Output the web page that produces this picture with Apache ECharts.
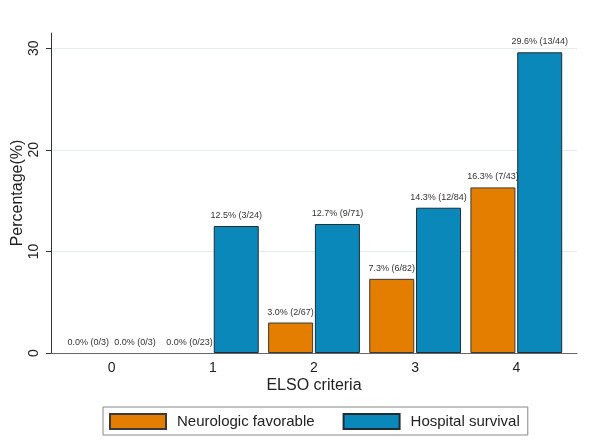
<!DOCTYPE html>
<html>
<head>
<meta charset="utf-8">
<script src="https://cdn.jsdelivr.net/npm/echarts@6/dist/echarts.min.js"></script>
<style>html,body{margin:0;padding:0;background:#fff}#c{width:600px;height:448px}</style>
</head>
<body>
<div id="c"></div>
<script>
const categories = [0, 1, 2, 3, 4];
const seriesNames = ['Neurologic favorable', 'Hospital survival'];
const neuroValues = [0.0, 0.0, 3.0, 7.3, 16.3];
const neuroLabels = ['0.0% (0/3)', '0.0% (0/23)', '3.0% (2/67)', '7.3% (6/82)', '16.3% (7/43)'];
const survValues = [0.0, 12.5, 12.7, 14.3, 29.6];
const survLabels = ['0.0% (0/3)', '12.5% (3/24)', '12.7% (9/71)', '14.3% (12/84)', '29.6% (13/44)'];
const yTicks = [0, 10, 20, 30];
const gridValues = [10, 20, 30];

const FONT = '"Liberation Sans", Arial, sans-serif';

function makeData(vals) {
  return categories.map((c, i) => ({
    value: [c, vals[i]],
    itemStyle: vals[i] === 0 ? { borderWidth: 0 } : undefined
  }));
}

const chart = echarts.init(document.getElementById('c'), null, { renderer: 'canvas' });
chart.setOption({
  animation: false,
  backgroundColor: '#fff',
  grid: { left: 51, right: 23, top: 33, bottom: 95, containLabel: false, outerBoundsMode: 'none' },
  xAxis: {
    type: 'value',
    min: -0.6,
    max: 4.6,
    name: 'ELSO criteria',
    nameLocation: 'middle',
    nameGap: 25,
    nameMoveOverlap: false,
    nameTextStyle: { fontSize: 16, color: '#222', fontFamily: FONT },
    axisLine: { show: true, onZero: false, lineStyle: { color: '#666', width: 1 } },
    axisTick: { show: false },
    splitLine: { show: false },
    axisLabel: { customValues: categories, fontSize: 14, color: '#222', fontFamily: FONT, margin: 8 }
  },
  yAxis: {
    type: 'value',
    min: 0,
    max: 31.5,
    name: 'Percentage(%)',
    nameLocation: 'middle',
    nameGap: 25,
    nameMoveOverlap: false,
    nameTextStyle: { fontSize: 16, color: '#222', fontFamily: FONT },
    axisLine: { show: true, onZero: false, lineStyle: { color: '#333', width: 1 } },
    axisTick: { show: true, customValues: yTicks, length: 5, lineStyle: { color: '#333' } },
    splitLine: { show: false },
    axisLabel: { customValues: yTicks, rotate: 90, fontSize: 14, color: '#222', fontFamily: FONT, margin: 10 }
  },
  legend: {
    data: seriesNames,
    left: 103,
    top: 407,
    orient: 'horizontal',
    itemWidth: 56,
    itemHeight: 15,
    itemGap: 28,
    padding: [6, 8, 5, 6],
    borderColor: '#888',
    borderWidth: 1,
    backgroundColor: '#fff',
    icon: 'rect',
    textStyle: { fontSize: 15, color: '#222', fontFamily: FONT, padding: [0, 0, 0, 6] }
  },
  series: [
    {
      name: seriesNames[0],
      type: 'bar',
      barWidth: 45,
      barGap: '4%',
      itemStyle: { color: '#E37E00', borderColor: '#3a3a3a', borderWidth: 1 },
      data: makeData(neuroValues),
      label: {
        show: true, position: 'top', distance: 6, fontSize: 9, color: '#333', fontFamily: FONT,
        formatter: p => neuroLabels[p.dataIndex]
      },
      markLine: {
        silent: true, symbol: 'none', label: { show: false },
        lineStyle: { color: '#e2eeee', width: 1, type: 'solid' },
        data: gridValues.map(v => ({ yAxis: v })),
        z: 0
      },
      z: 3
    },
    {
      name: seriesNames[1],
      type: 'bar',
      barWidth: 45,
      barGap: '4%',
      itemStyle: { color: '#0A88BA', borderColor: '#1f2d33', borderWidth: 1 },
      data: makeData(survValues),
      label: {
        show: true, position: 'top', distance: 6, fontSize: 9, color: '#333', fontFamily: FONT,
        formatter: p => survLabels[p.dataIndex]
      },
      z: 3
    }
  ]
});
</script>
</body>
</html>
